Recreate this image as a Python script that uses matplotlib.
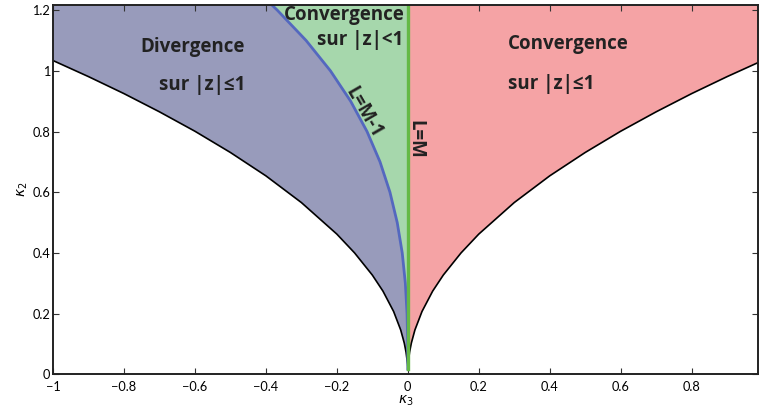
import matplotlib
matplotlib.use("Agg")
import matplotlib.pyplot as plt

# stability boundary  kappa2 vs |kappa3|
bound_abs_x = [0.0, 0.002, 0.005, 0.01, 0.02, 0.04, 0.07, 0.1, 0.15, 0.2,
               0.3, 0.4, 0.5, 0.6, 0.7, 0.8, 0.9, 1.0]
bound_y = [0.03, 0.046, 0.073, 0.103, 0.146, 0.207, 0.274, 0.327, 0.400, 0.462,
           0.566, 0.654, 0.731, 0.801, 0.865, 0.925, 0.981, 1.034]

# L = M-1 curve
lm1_y = [0.017, 0.1, 0.2, 0.3, 0.4, 0.5, 0.6, 0.7, 0.8, 0.9, 1.0, 1.1, 1.2, 1.22]
lm1_x = [0.0, -0.0003, -0.0021, -0.0069, -0.0157, -0.0298, -0.0503, -0.0783,
         -0.1149, -0.1611, -0.218, -0.2866, -0.3679, -0.3857]

# L = M line
lm_x = [0.0, 0.0]
lm_y = [0.017, 1.25]

xticks = [-1, -0.8, -0.6, -0.4, -0.2, 0, 0.2, 0.4, 0.6, 0.8]
yticks = [0, 0.2, 0.4, 0.6, 0.8, 1, 1.2]

C_DIV = "#989bbb"
C_CONV_IN = "#a6d7ac"
C_CONV = "#f5a3a5"
C_LM1 = "#5468bf"
C_LM = "#64b946"
TOP = 1.3

plt.rcParams["font.family"] = ["Lato", "DejaVu Sans"]
fig = plt.figure(figsize=(7.59, 4.07), dpi=100)
ax = fig.add_axes([53 / 759, 32.7 / 407, 705 / 759, 369.6 / 407])

left_x = [-v for v in bound_abs_x]

# divergence region (left of boundary)
ax.fill(left_x + [-1.0, -1.0, 0.0], bound_y + [bound_y[-1], TOP, TOP],
        color=C_DIV, lw=0, zorder=1)
# convergence on |z|<1 between L=M-1 and L=M
ax.fill(lm1_x + [lm1_x[-1], 0.0], lm1_y + [TOP, TOP], color=C_CONV_IN, lw=0, zorder=2)
# convergence region right side
ax.fill(bound_abs_x + [1.0, 0.0], bound_y + [TOP, TOP], color=C_CONV, lw=0, zorder=1)

ax.plot(left_x, bound_y, color="black", lw=1.2, zorder=3)
ax.plot(bound_abs_x, bound_y, color="black", lw=1.2, zorder=3)
ax.plot(lm1_x, lm1_y, color=C_LM1, lw=2.0, zorder=4)
ax.plot(lm_x, lm_y, color=C_LM, lw=2.4, zorder=5)

ax.set_xlim(-1, 0.987)
ax.set_ylim(0, 1.218)
ax.set_xticks(xticks)
ax.set_xticklabels(["\u22121", "\u22120.8", "\u22120.6", "\u22120.4", "\u22120.2",
                    "0", "0.2", "0.4", "0.6", "0.8"])
ax.set_yticks(yticks)
ax.set_yticklabels(["0", "0.2", "0.4", "0.6", "0.8", "1", "1.2"])
ax.tick_params(direction="in", length=4, width=0.8, labelsize=9.2,
               top=True, right=True, color="#333333")
ax.tick_params(axis="x", pad=4.5)
ax.tick_params(axis="y", pad=2)
for s in ax.spines.values():
    s.set_linewidth(1.4)
    s.set_color("#222222")
    s.set_zorder(6)

ax.set_xlabel(r"$\kappa_3$", fontsize=10, labelpad=1)
ax.set_ylabel(r"$\kappa_2$", fontsize=10, labelpad=2)

tk = dict(fontsize=13.5, fontweight="bold", color="#222222", zorder=7,
          family=["Open Sans", "DejaVu Sans"])
ax.text(-0.608, 1.080, "Divergence", ha="center", va="center", **tk)
ax.text(-0.58, 0.955, "sur |z|\u22641", ha="center", va="center", **tk)
ax.text(0.283, 1.087, "Convergence", ha="left", va="center", **tk)
ax.text(0.283, 0.958, "sur |z|\u22641", ha="left", va="center", **tk)
ax.text(-0.008, 1.183, "Convergence", ha="right", va="center", **tk)
ax.text(-0.012, 1.103, "sur |z|<1", ha="right", va="center", **tk)
ax.text(-0.126, 0.862, "L=M-1", ha="center", va="center", rotation=-60,
        rotation_mode="anchor", **tk)
ax.text(0.022, 0.773, "L=M", ha="center", va="center", rotation=-90, **tk)

fig.savefig("out.png", dpi=100)
